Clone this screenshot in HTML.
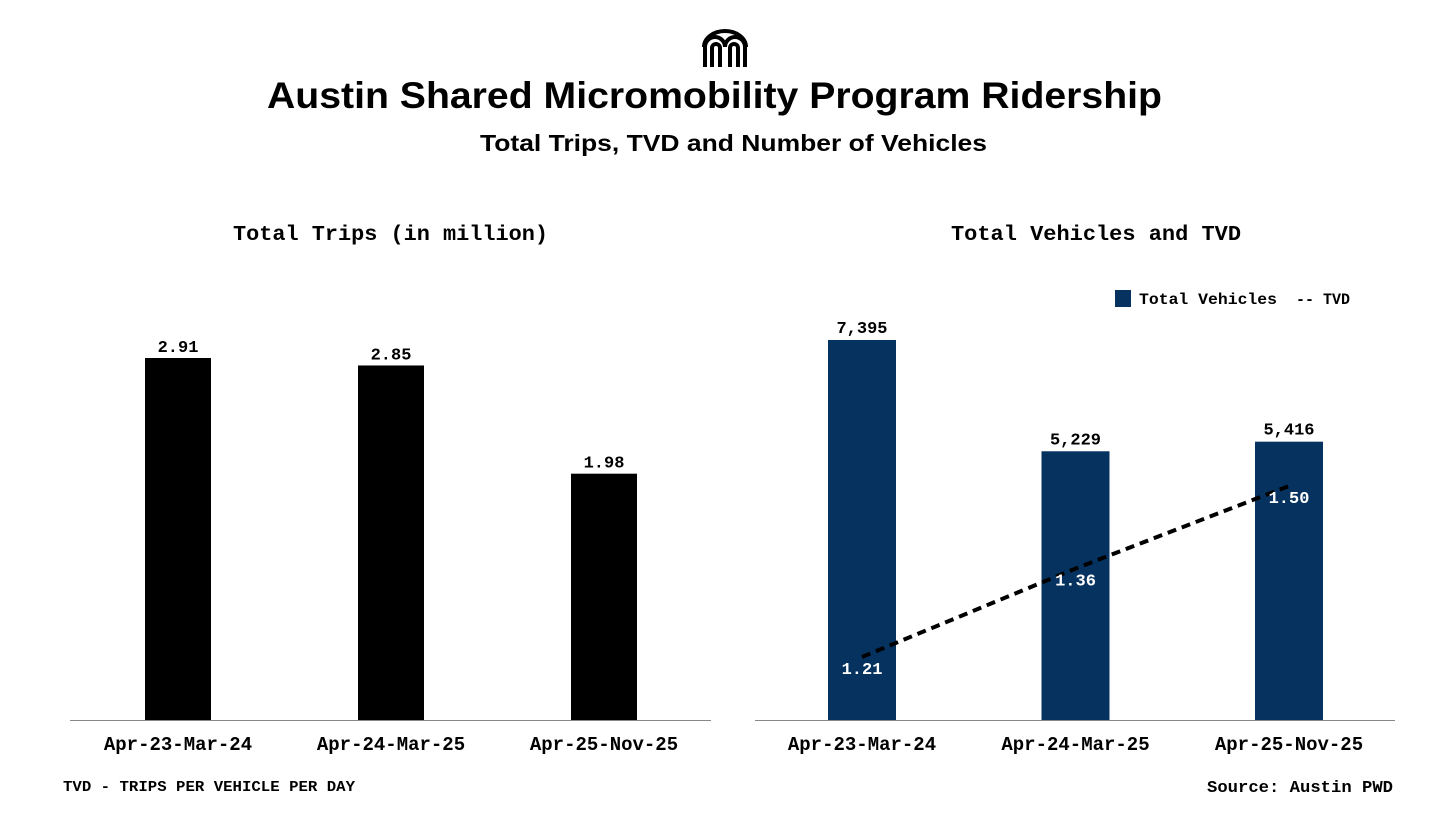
<!DOCTYPE html>
<html><head><meta charset="utf-8"><style>
html,body{margin:0;padding:0;background:#fff;}
body{width:1456px;height:819px;overflow:hidden;position:relative;}
svg text{font-family:"Liberation Mono",monospace;font-weight:bold;}
</style></head><body>
<svg width="1456" height="819" viewBox="0 0 1456 819" xmlns="http://www.w3.org/2000/svg">
<g fill="none" stroke="#000" stroke-width="4">
<path d="M705 67 V47 a10 10 0 0 1 20 0 a10 10 0 0 1 20 0 V67"/>
<path d="M712 67 V48 a4 4 0 0 1 8 0 V67 M730 67 V48 a4 4 0 0 1 8 0 V67"/>
<path d="M704 47 a21 16 0 0 1 42 0" />
</g>
<text x="267" y="108" textLength="895" lengthAdjust="spacingAndGlyphs" font-size="37" style="font-family:'Liberation Sans',sans-serif">Austin Shared Micromobility Program Ridership</text>
<text x="480" y="151" textLength="507" lengthAdjust="spacingAndGlyphs" font-size="23" style="font-family:'Liberation Sans',sans-serif">Total Trips, TVD and Number of Vehicles</text>
<text x="233" y="240" textLength="315" lengthAdjust="spacingAndGlyphs" font-size="21">Total Trips (in million)</text>
<text x="951" y="240" textLength="290" lengthAdjust="spacingAndGlyphs" font-size="21">Total Vehicles and TVD</text>
<g id="left"></g>
<g id="right"></g>
<line x1="70" y1="720.5" x2="711" y2="720.5" stroke="#888"/>
<line x1="755" y1="720.5" x2="1395" y2="720.5" stroke="#888"/>
<rect x="1115" y="290" width="16" height="17" fill="#05325f"/>
<text x="1139" y="304" textLength="138" lengthAdjust="spacingAndGlyphs" font-size="16">Total Vehicles</text>
<text x="1296" y="304" textLength="54" lengthAdjust="spacingAndGlyphs" font-size="16">-- TVD</text>
<text x="63" y="791" textLength="292" lengthAdjust="spacingAndGlyphs" font-size="15">TVD - TRIPS PER VEHICLE PER DAY</text>
<text x="1207" y="792" textLength="186" lengthAdjust="spacingAndGlyphs" font-size="17">Source: Austin PWD</text>
</svg>
<script>
const categories=["Apr-23-Mar-24","Apr-24-Mar-25","Apr-25-Nov-25"];
const trips=[2.91,2.85,1.98];
const tripLabels=["2.91","2.85","1.98"];
const vehicles=[7395,5229,5416];
const vehicleLabels=["7,395","5,229","5,416"];
const tvd=[1.21,1.36,1.50];
const tvdLabels=["1.21","1.36","1.50"];
const NS="http://www.w3.org/2000/svg";
const base=720;
function mk(tag,attrs,parent){const e=document.createElementNS(NS,tag);for(const k in attrs)e.setAttribute(k,attrs[k]);parent.appendChild(e);return e;}
const xL=i=>178+i*213, yT=v=>base-v*124.4;
const xR=i=>862+i*213.5, yV=v=>base-v*0.05139, yD=v=>657-(v-1.21)*589.7;
const L=document.getElementById('left'),R=document.getElementById('right');
categories.forEach((c,i)=>{
 let b=mk('rect',{x:xL(i)-33,y:yT(trips[i]),width:66,height:base-yT(trips[i]),fill:'#000'},L);
 
 
 let t=mk('text',{x:xL(i),y:yT(trips[i])-6,'text-anchor':'middle','font-size':17},L);t.textContent=tripLabels[i];
 
 
 let a=mk('text',{x:xL(i),y:750,'text-anchor':'middle','font-size':19},L);a.textContent=c;
 
 
 let v=mk('rect',{x:xR(i)-34,y:yV(vehicles[i]),width:68,height:base-yV(vehicles[i]),fill:'#05325f'},R);
 
 
 let vt=mk('text',{x:xR(i),y:yV(vehicles[i])-7,'text-anchor':'middle','font-size':17},R);vt.textContent=vehicleLabels[i];
 
 
 let ra=mk('text',{x:xR(i),y:750,'text-anchor':'middle','font-size':19},R);ra.textContent=c;
 
 
});
const pts=tvd.map((v,i)=>xR(i)+','+yD(v)).join(' ');
let pl=mk('polyline',{points:pts,fill:'none',stroke:'#000','stroke-width':4,'stroke-dasharray':'9 6'},R);


tvd.forEach((v,i)=>{
 let t=mk('text',{x:xR(i),y:yD(v)+17,'text-anchor':'middle','font-size':17,fill:'#fff'},R);t.textContent=tvdLabels[i];
 
 
});
</script>
</body></html>
